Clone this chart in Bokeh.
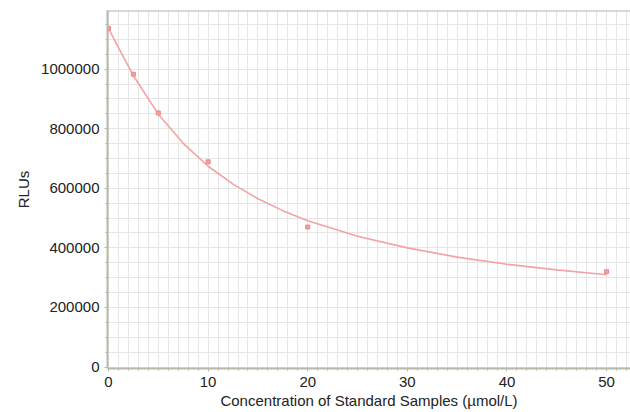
from bokeh.plotting import figure
from bokeh.models import Range1d, FixedTicker, NumeralTickFormatter, Span
from bokeh.embed import file_html
from bokeh.resources import INLINE

# Measured standard points
conc = [0, 2.5, 5, 10, 20, 50]
rlu = [1137000, 983000, 853000, 689000, 470000, 320000]

# Fitted curve
curve_x = [0, 1, 2.5, 5, 7.5, 10, 12.5, 15, 17.5, 20, 25, 30, 35, 40, 45, 50]
curve_y = [1137000, 1072000, 978000, 849000, 751000, 674000, 614000, 565000,
           525000, 491000, 439000, 400000, 369000, 345000, 326000, 310000]

x_major = [0, 10, 20, 30, 40, 50]
x_minor = list(range(0, 53))
y_major = [0, 200000, 400000, 600000, 800000, 1000000]
y_minor = list(range(0, 1200001, 50000))

x_title = "Concentration of Standard Samples (\u00b5mol/L)"
y_title = "RLUs"

FONT = "Liberation Sans"

p = figure(width=630, height=412, output_backend="svg", toolbar_location=None,
           x_range=Range1d(-0.1, 52.4), y_range=Range1d(-5000, 1197000),
           min_border_left=107, min_border_right=0, min_border_top=10, min_border_bottom=44)
p.outline_line_color = None
p.background_fill_color = "white"

p.xaxis.ticker = FixedTicker(ticks=x_major, minor_ticks=x_minor)
p.yaxis.ticker = FixedTicker(ticks=y_major, minor_ticks=y_minor)
p.yaxis.formatter = NumeralTickFormatter(format="0")

for g in (p.xgrid, p.ygrid):
    g.grid_line_color = "#e6e6e6"
    g.minor_grid_line_color = "#e6e6e6"
    g.grid_line_width = 1

for ax in (p.xaxis, p.yaxis):
    ax.axis_line_color = "#b8b8ac"
    ax.axis_line_width = 2
    ax.major_tick_line_color = "#b8b8ac"
    ax.minor_tick_line_color = "#b8b8ac"
    ax.major_tick_out = 3
    ax.major_tick_in = 0
    ax.minor_tick_out = 2
    ax.minor_tick_in = 0
    ax.major_label_text_font = FONT
    ax.major_label_text_font_size = "15px"
    ax.major_label_text_color = "#222222"
    ax.axis_label_text_font = FONT
    ax.axis_label_text_font_size = "15px"
    ax.axis_label_text_font_style = "normal"
    ax.axis_label_text_color = "#222222"

p.xaxis.axis_label = x_title
p.yaxis.axis_label = y_title
p.xaxis.major_label_standoff = 5
p.xaxis.axis_label_standoff = 2
p.yaxis.major_label_standoff = 5
p.yaxis.axis_label_standoff = 6

p.add_layout(Span(location=1197000, dimension="width", line_color="#b4b4b4", line_width=2))

p.line(curve_x, curve_y, line_color="#f4a2a2", line_width=1.6)
p.scatter(conc, rlu, marker="square", size=4, fill_color="#f4a0a0",
          line_color="#ee8888", line_width=1)

open("out.html", "w").write(file_html(p, INLINE))
